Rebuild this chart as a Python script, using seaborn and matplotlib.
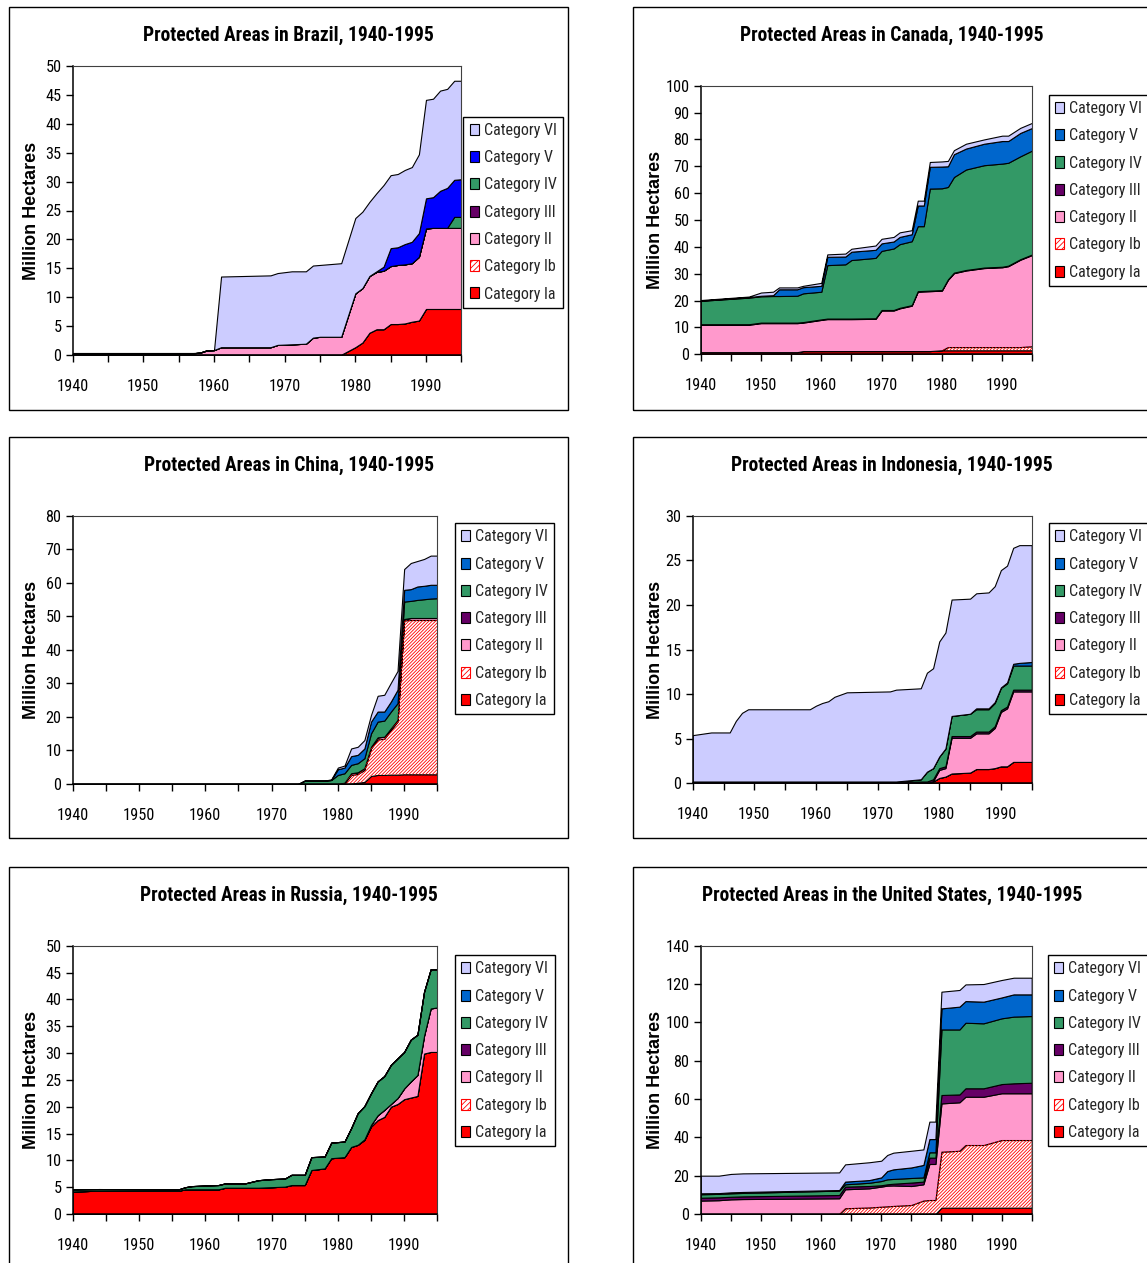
import os
import matplotlib
matplotlib.use("Agg")
import matplotlib.pyplot as plt
import seaborn as sns
from matplotlib import font_manager as fm
from matplotlib.patches import Patch, Rectangle

sns.set_theme(style="white")
plt.rcParams["font.family"] = ["Liberation Sans", "DejaVu Sans"]
plt.rcParams["hatch.linewidth"] = 0.6

# ---------------- data (million hectares, per category) ----------------
CATEGORIES = ["Category Ia", "Category Ib", "Category II", "Category III",
              "Category IV", "Category V", "Category VI"]

BRAZIL_YEARS = [1940, 1957, 1958, 1959, 1960, 1961, 1968, 1969, 1971, 1973, 1974, 1975, 1978, 1980, 1981,
                1982, 1983, 1984, 1985, 1986, 1987, 1988, 1989, 1990, 1991, 1992, 1993, 1994, 1995]
BRAZIL_IA = [0.1, 0.1, 0.1, 0.1, 0.1, 0.1, 0.1, 0.1, 0.1, 0.1, 0.1, 0.1, 0.1, 1.4, 2.2,
             3.9, 4.5, 4.5, 5.4, 5.4, 5.5, 5.8, 6.0, 8.0, 8.0, 8.0, 8.0, 8.0, 8.0]
BRAZIL_IB = [0, 0, 0, 0, 0, 0, 0, 0, 0, 0, 0, 0, 0, 0, 0,
             0, 0, 0, 0, 0, 0, 0, 0, 0, 0, 0, 0, 0, 0]
BRAZIL_II = [0.25, 0.25, 0.35, 0.75, 0.8, 1.3, 1.3, 1.7, 1.8, 1.9, 2.95, 3.1, 3.1, 9.3, 9.4,
             9.8, 9.9, 10.1, 10.0, 10.2, 10.2, 10.1, 11.0, 13.9, 14.0, 14.0, 14.0, 14.0, 14.0]
BRAZIL_III = [0, 0, 0, 0, 0, 0, 0, 0, 0, 0, 0, 0, 0, 0, 0,
              0, 0, 0, 0, 0, 0, 0, 0, 0, 0, 0, 0, 0, 0]
BRAZIL_IV = [0, 0, 0, 0, 0, 0, 0, 0, 0, 0, 0, 0, 0, 0, 0,
             0, 0, 0, 0, 0, 0, 0, 0, 0, 0, 0, 0, 1.9, 1.9]
BRAZIL_V = [0, 0, 0, 0, 0, 0, 0, 0, 0, 0, 0, 0, 0, 0, 0,
            0, 0.1, 0.7, 3.1, 3.05, 3.5, 3.7, 4.1, 5.2, 5.3, 6.4, 6.9, 6.4, 6.5]
BRAZIL_VI = [0.05, 0.05, 0, 0, 0, 12.2, 12.4, 12.4, 12.6, 12.5, 12.45, 12.4, 12.7, 13.0, 13.2,
             12.8, 13.5, 14.1, 12.6, 12.65, 12.8, 12.9, 13.6, 17.0, 17.0, 17.3, 17.1, 17.1, 17.0]

CANADA_YEARS = [1940, 1948, 1950, 1952, 1953, 1956, 1957, 1960, 1961, 1964, 1965, 1969, 1970, 1972,
                1973, 1975, 1976, 1977, 1978, 1980, 1981, 1982, 1984, 1987, 1990, 1991, 1993, 1995]
CANADA_IA = [0.8, 0.8, 0.8, 0.8, 0.8, 0.8, 1.2, 1.2, 1.2, 1.2, 1.2, 1.2, 1.2, 1.2,
             1.2, 1.2, 1.2, 1.2, 1.2, 1.5, 1.5, 1.5, 1.5, 1.5, 1.5, 1.5, 1.5, 1.5]
CANADA_IB = [0, 0, 0, 0, 0, 0, 0, 0, 0, 0, 0, 0, 0, 0,
             0, 0, 0, 0, 0, 0, 1.2, 1.2, 1.2, 1.2, 1.2, 1.2, 1.2, 1.5]
CANADA_II = [10.2, 10.2, 10.8, 10.8, 10.8, 10.8, 10.6, 11.6, 11.9, 11.9, 11.9, 12.0, 15.1, 15.1,
             15.9, 16.9, 22.1, 22.2, 22.3, 22.2, 25.0, 27.5, 28.5, 29.4, 29.7, 30.1, 32.5, 34.0]
CANADA_III = [0.2, 0.2, 0.2, 0.2, 0.2, 0.2, 0.2, 0.2, 0.2, 0.2, 0.2, 0.2, 0.2, 0.2,
              0.2, 0.2, 0.2, 0.2, 0.2, 0.2, 0.2, 0.2, 0.2, 0.2, 0.2, 0.2, 0.2, 0.2]
CANADA_IV = [8.7, 9.9, 9.8, 9.9, 9.9, 10.0, 10.7, 10.3, 19.9, 20.2, 21.8, 22.5, 22.0, 22.9,
             23.7, 23.8, 24.2, 24.1, 38.0, 37.9, 34.4, 35.6, 37.4, 38.1, 38.4, 38.3, 38.3, 38.7]
CANADA_V = [0.1, 0.2, 0.2, 0.3, 2.5, 2.4, 2.3, 2.2, 3.1, 2.9, 3.1, 3.0, 2.8, 2.6,
            2.7, 2.6, 7.7, 7.7, 8.1, 8.1, 7.7, 8.5, 7.8, 8.0, 8.4, 8.1, 8.7, 8.4]
CANADA_VI = [0.2, 0.2, 1.2, 1.3, 0.7, 0.7, 0.5, 1.1, 0.9, 1.1, 1.1, 1.6, 1.7, 1.7,
             1.7, 1.5, 1.8, 1.8, 1.8, 1.9, 2.0, 1.5, 1.8, 1.6, 2.0, 2.0, 1.9, 1.9]

CHINA_YEARS = [1940, 1974, 1975, 1978, 1979, 1980, 1981, 1982, 1983, 1984, 1985,
               1986, 1987, 1988, 1989, 1990, 1991, 1992, 1993, 1994, 1995]
CHINA_IA = [0, 0, 0, 0, 0, 0, 0, 0.1, 0.4, 0.6, 2.4, 2.7, 2.7, 2.8, 2.8, 2.9, 2.9, 2.9, 2.9, 2.9, 2.9]
CHINA_IB = [0, 0, 0, 0, 0, 0, 0.2, 2.6, 2.6, 3.6, 8.2, 10.6, 10.8, 13.3, 15.8, 45.9, 46.0, 46.0, 46.0, 46.0, 46.0]
CHINA_II = [0, 0, 0, 0, 0, 0, 0.2, 0.5, 0.5, 0.5, 0.5, 0.6, 0.6, 0.5, 0.5, 0.4, 0.6, 0.6, 0.6, 0.6, 0.6]
CHINA_III = [0, 0, 0, 0, 0, 0, 0, 0, 0, 0, 0, 0, 0, 0, 0, 0, 0, 0, 0, 0, 0]
CHINA_IV = [0, 0, 1.0, 1.0, 1.2, 2.7, 2.8, 2.5, 2.7, 3.0, 4.0, 4.7, 4.8, 5.0, 5.0, 5.2, 5.1, 5.4, 5.6, 5.8, 5.9]
CHINA_V = [0, 0, 0, 0, 0, 1.7, 1.7, 2.6, 2.5, 2.9, 3.5, 3.0, 2.7, 3.0, 4.0, 3.5, 3.5, 4.0, 4.0, 4.1, 4.0]
CHINA_VI = [0, 0, 0, 0, 0.2, 0.5, 0.6, 2.3, 2.4, 2.5, 2.0, 4.7, 5.0, 5.6, 5.6, 6.2, 7.8, 7.6, 8.0, 8.7, 8.7]

INDONESIA_YEARS = [1940, 1943, 1946, 1947, 1948, 1949, 1959, 1960, 1961, 1962, 1963, 1965, 1972, 1973, 1977,
                   1978, 1979, 1980, 1981, 1982, 1985, 1986, 1988, 1989, 1990, 1991, 1992, 1993, 1995]
INDONESIA_IA = [0, 0, 0, 0, 0, 0, 0, 0, 0, 0, 0, 0, 0, 0, 0,
                0, 0.2, 0.6, 0.75, 1.1, 1.2, 1.6, 1.6, 1.7, 1.9, 1.9, 2.4, 2.4, 2.4]
INDONESIA_IB = [0, 0, 0, 0, 0, 0, 0, 0, 0, 0, 0, 0, 0, 0, 0,
                0, 0, 0, 0, 0, 0, 0, 0, 0, 0, 0, 0, 0, 0]
INDONESIA_II = [0, 0, 0, 0, 0, 0, 0, 0, 0, 0, 0, 0, 0, 0, 0,
                0, 0.05, 0.9, 0.95, 4.0, 3.9, 4.0, 4.0, 4.5, 6.1, 6.5, 7.9, 7.9, 7.9]
INDONESIA_III = [0.2, 0.2, 0.2, 0.2, 0.2, 0.2, 0.2, 0.2, 0.2, 0.2, 0.2, 0.2, 0.2, 0.2, 0.2,
                 0.2, 0.2, 0.2, 0.2, 0.2, 0.2, 0.2, 0.2, 0.2, 0.2, 0.2, 0.2, 0.2, 0.2]
INDONESIA_IV = [0, 0, 0, 0, 0, 0, 0, 0, 0, 0, 0, 0, 0, 0, 0.25,
                1.1, 1.25, 1.3, 2.0, 2.25, 2.5, 2.5, 2.5, 2.6, 2.5, 2.6, 2.7, 2.7, 2.7]
INDONESIA_V = [0, 0, 0, 0, 0, 0, 0, 0, 0, 0, 0, 0, 0, 0, 0,
               0, 0, 0, 0, 0, 0, 0.1, 0.1, 0.1, 0.05, 0.1, 0.2, 0.3, 0.4]
INDONESIA_VI = [5.2, 5.5, 5.5, 6.8, 7.7, 8.1, 8.1, 8.5, 8.8, 9.0, 9.5, 10.0, 10.1, 10.3, 10.2,
                11.1, 11.2, 12.9, 13.0, 13.05, 12.9, 12.9, 13.0, 13.0, 13.15, 13.1, 13.0, 13.2, 13.1]

RUSSIA_YEARS = [1940, 1944, 1956, 1957, 1958, 1962, 1963, 1966, 1968, 1970, 1972, 1973, 1975, 1976, 1978, 1979,
                1981, 1982, 1983, 1984, 1985, 1986, 1987, 1988, 1989, 1990, 1991, 1992, 1993, 1994, 1995]
RUSSIA_IA = [4.2, 4.35, 4.35, 4.6, 4.6, 4.6, 4.9, 4.9, 4.9, 5.0, 5.1, 5.4, 5.4, 8.2, 8.5, 10.4,
             10.6, 12.5, 12.9, 13.8, 16.3, 17.5, 18.1, 20.0, 20.5, 21.4, 21.7, 22.0, 29.9, 30.2, 30.2]
RUSSIA_IB = [0, 0, 0, 0, 0, 0, 0, 0, 0, 0, 0, 0, 0, 0, 0, 0,
             0, 0, 0, 0, 0, 0, 0, 0, 0, 0, 0, 0, 0, 0, 0]
RUSSIA_II = [0, 0, 0, 0, 0, 0, 0, 0, 0, 0, 0, 0, 0, 0, 0, 0,
             0, 0, 0, 0.1, 0.3, 0.9, 1.3, 0.5, 1.1, 2.0, 3.0, 3.9, 3.3, 8.1, 8.3]
RUSSIA_III = [0, 0, 0, 0, 0, 0, 0, 0, 0, 0, 0, 0, 0, 0, 0, 0,
              0, 0, 0, 0, 0, 0, 0, 0, 0, 0, 0, 0, 0, 0, 0]
RUSSIA_IV = [0.4, 0.3, 0.25, 0.4, 0.6, 0.8, 0.8, 0.8, 1.4, 1.5, 1.5, 1.9, 1.9, 2.4, 2.2, 2.9,
             2.9, 3.5, 5.9, 6.2, 5.9, 6.3, 6.3, 7.3, 7.4, 6.8, 7.8, 7.5, 8.2, 7.3, 7.1]
RUSSIA_V = [0, 0, 0, 0, 0, 0, 0, 0, 0, 0, 0, 0, 0, 0, 0, 0,
            0, 0, 0, 0, 0, 0, 0, 0, 0, 0, 0, 0, 0, 0, 0]
RUSSIA_VI = [0, 0, 0, 0, 0, 0, 0, 0, 0, 0, 0, 0, 0, 0, 0, 0,
             0, 0, 0, 0, 0, 0, 0, 0, 0, 0, 0, 0, 0, 0, 0]

US_YEARS = [1940, 1943, 1945, 1947, 1963, 1964, 1968, 1970, 1971, 1972, 1975,
            1977, 1978, 1979, 1980, 1983, 1984, 1987, 1990, 1992, 1995]
US_IA = [0, 0, 0, 0, 0, 0, 0, 0, 0, 0, 0, 0, 0, 0, 3.3, 3.3, 3.3, 3.3, 3.3, 3.3, 3.3]
US_IB = [0, 0, 0, 0, 0, 3.0, 3.4, 3.8, 4.0, 4.2, 4.7, 7.0, 7.3, 7.3, 29.2, 29.7, 32.7, 32.7, 35.3, 35.3, 35.3]
US_II = [7.0, 7.2, 7.65, 7.8, 8.2, 9.9, 10.0, 10.5, 10.8, 10.7, 9.9, 8.5, 18.8, 18.8, 25.2, 25.3, 25.2, 25.2, 24.4, 24.4, 24.4]
US_III = [1.5, 1.5, 1.35, 1.4, 1.7, 1.4, 1.2, 0.7, 0.7, 0.9, 1.8, 1.4, 3.3, 3.3, 4.4, 4.1, 4.4, 4.4, 4.8, 5.2, 5.5]
US_IV = [1.8, 1.8, 1.8, 1.8, 2.3, 1.2, 1.7, 2.2, 2.6, 2.5, 2.4, 2.2, 2.8, 2.8, 34.2, 33.9, 34.2, 33.9, 34.3, 34.8, 34.8]
US_V = [0.5, 0.4, 0.5, 0.5, 0.3, 1.4, 1.4, 1.9, 4.3, 5.0, 5.5, 6.5, 6.9, 6.9, 11.0, 11.9, 11.3, 11.3, 10.9, 11.6, 11.3]
US_VI = [9.2, 9.1, 9.6, 9.7, 9.2, 9.0, 9.3, 8.7, 8.4, 8.7, 8.7, 8.1, 9.1, 9.1, 8.7, 8.7, 8.7, 9.2, 9.1, 8.7, 8.7]

TITLES = ["Protected Areas in Brazil, 1940-1995", "Protected Areas in Canada, 1940-1995",
          "Protected Areas in China, 1940-1995", "Protected Areas in Indonesia, 1940-1995",
          "Protected Areas in Russia, 1940-1995", "Protected Areas in the United States, 1940-1995"]
Y_LABEL = "Million Hectares"
Y_LIMITS = [50, 100, 80, 30, 50, 140]
Y_STEPS = [5, 10, 10, 5, 5, 20]
X_TICKS = [1940, 1945, 1950, 1955, 1960, 1965, 1970, 1975, 1980, 1985, 1990, 1995]
X_LABELS = ["1940", "", "1950", "", "1960", "", "1970", "", "1980", "", "1990", ""]

# ---------------- styling ----------------
COL_VI = "#CCCCFF"
COL_V = "#0066CC"
COL_V_BRAZIL = "#0000FF"
COL_IV = "#339966"
COL_III = "#660066"
COL_II = "#FF99CC"
COL_IB = "#FFFFFF"
COL_IA = "#FF0000"
HATCH = "//////////"


def _is_bold(e):
    w = e.weight
    if isinstance(w, str):
        return w.lower() in ("bold", "heavy", "black", "extra bold", "ultrabold",
                             "demibold", "semibold", "demi")
    return w >= 600


def pick_narrow(bold):
    entries = [e for e in fm.fontManager.ttflist
               if e.style == "normal" and _is_bold(e) == bold]
    for name in ["Liberation Sans Narrow", "Arial Narrow", "Roboto Condensed",
                 "Open Sans Condensed", "Noto Sans Condensed", "Noto Sans SemiCondensed"]:
        for e in entries:
            if e.name == name:
                return e.fname
    for key in ["Narrow", "-Condensed", "SemiCondensed", "Condensed"]:
        for e in entries:
            base = os.path.basename(e.fname)
            if (key in base and "Extra" not in base and "Ultra" not in base
                    and "Italic" not in base and "Oblique" not in base and "Mono" not in base
                    and "Serif" not in base):
                return e.fname
    return None


NARROW_REG = pick_narrow(False)
NARROW_BOLD = pick_narrow(True)


def fprop(fname, bold, size, family=("Liberation Sans", "DejaVu Sans")):
    if fname:
        return fm.FontProperties(fname=fname, size=size)
    return fm.FontProperties(family=list(family), weight="bold" if bold else "normal", size=size)


W, H = 1147, 1263
fig = plt.figure(figsize=(W / 100, H / 100), dpi=100)
fig.patch.set_facecolor("white")
_renderer = fig.canvas.get_renderer()


def fit_size(text, fname, bold, target_px, family=("Liberation Sans", "DejaVu Sans")):
    t = fig.text(0, 0, text, fontproperties=fprop(fname, bold, 20, family))
    w = t.get_window_extent(renderer=_renderer).width
    t.remove()
    return 20.0 * target_px / w


TITLE_SIZE = fit_size("Protected Areas in Brazil, 1940-1995", NARROW_BOLD, True, 291)
LEG_SIZE = fit_size("Category VI", NARROW_REG, False, 73)
TICK_SIZE = fit_size("1940", NARROW_REG, False, 32)
YLAB_SIZE = fit_size(Y_LABEL, None, True, 138)

fp_title = fprop(NARROW_BOLD, True, TITLE_SIZE)
fp_leg = fprop(NARROW_REG, False, LEG_SIZE)
fp_tick = fprop(NARROW_REG, False, TICK_SIZE)
fp_ylab = fprop(None, True, YLAB_SIZE)

LEG_PX = LEG_SIZE * 100 / 72.0


def frac_rect(l, t, r, b):
    return [l / W, 1 - b / H, (r - l) / W, (b - t) / H]


panel_data = [
    (BRAZIL_YEARS, [BRAZIL_IA, BRAZIL_IB, BRAZIL_II, BRAZIL_III, BRAZIL_IV, BRAZIL_V, BRAZIL_VI]),
    (CANADA_YEARS, [CANADA_IA, CANADA_IB, CANADA_II, CANADA_III, CANADA_IV, CANADA_V, CANADA_VI]),
    (CHINA_YEARS, [CHINA_IA, CHINA_IB, CHINA_II, CHINA_III, CHINA_IV, CHINA_V, CHINA_VI]),
    (INDONESIA_YEARS, [INDONESIA_IA, INDONESIA_IB, INDONESIA_II, INDONESIA_III, INDONESIA_IV,
                       INDONESIA_V, INDONESIA_VI]),
    (RUSSIA_YEARS, [RUSSIA_IA, RUSSIA_IB, RUSSIA_II, RUSSIA_III, RUSSIA_IV, RUSSIA_V, RUSSIA_VI]),
    (US_YEARS, [US_IA, US_IB, US_II, US_III, US_IV, US_V, US_VI]),
]

# layout in pixels: panel box, axes box, legend top-left, title centre, ylabel x
LAYOUT = [
    dict(box=(9, 7, 568, 410), ax=(72.7, 65.7, 461.3, 355.3), leg=(463.3, 116.5), title=(288.5, 35), ylab=32),
    dict(box=(633, 7, 1152, 410), ax=(700.7, 85.7, 1032.3, 354.3), leg=(1048.5, 94.7), title=(892, 35), ylab=655),
    dict(box=(9, 437, 568, 838), ax=(72.7, 515.7, 437.3, 784.0), leg=(454.5, 523), title=(288.5, 465), ylab=32),
    dict(box=(633, 437, 1152, 838), ax=(692.7, 515.7, 1031.7, 783.3), leg=(1048.5, 523), title=(892, 465), ylab=655),
    dict(box=(9, 867, 568, 1266), ax=(72.7, 945.7, 437.3, 1214.0), leg=(455, 955), title=(288.5, 895), ylab=32),
    dict(box=(633, 867, 1152, 1266), ax=(700.7, 945.7, 1031.7, 1214.0), leg=(1048, 955), title=(892, 895), ylab=655),
]

for i, ((years, series), lay) in enumerate(zip(panel_data, LAYOUT)):
    vcol = COL_V_BRAZIL if i == 0 else COL_V
    colors = [COL_IA, COL_IB, COL_II, COL_III, COL_IV, vcol, COL_VI]

    fig.add_artist(Rectangle((lay["box"][0] / W, 1 - lay["box"][3] / H),
                             (lay["box"][2] - lay["box"][0]) / W,
                             (lay["box"][3] - lay["box"][1]) / H,
                             transform=fig.transFigure, fill=False,
                             edgecolor="black", linewidth=1.0, zorder=0))

    ax = fig.add_axes(frac_rect(*lay["ax"]))
    ax.set_facecolor("white")
    ax.stackplot(years, *series, colors=colors, edgecolor="black",
                 linewidth=0.8, labels=CATEGORIES)
    # red hatching of Category Ib, laid over its (white) band
    ib_low = series[0]
    ib_high = [a + b for a, b in zip(series[0], series[1])]
    ax.fill_between(years, ib_low, ib_high, facecolor="none", edgecolor=COL_IA,
                    hatch=HATCH, linewidth=0)

    ax.set_xlim(1940, 1995)
    ax.set_ylim(0, Y_LIMITS[i])
    ax.set_xticks(X_TICKS)
    ax.set_xticklabels(X_LABELS)
    ax.set_yticks(list(range(0, Y_LIMITS[i] + 1, Y_STEPS[i])))
    ax.tick_params(axis="both", which="major", direction="out", length=5, width=1,
                   colors="black", bottom=True, left=True)
    ax.tick_params(axis="x", pad=12)
    ax.tick_params(axis="y", pad=3)
    for lab in ax.get_xticklabels() + ax.get_yticklabels():
        lab.set_fontproperties(fp_tick)
    for side in ["left", "bottom"]:
        ax.spines[side].set_color("black")
        ax.spines[side].set_linewidth(1.1)
    for side in ["top", "right"]:
        ax.spines[side].set_color("#404040")
        ax.spines[side].set_linewidth(0.8)
    ax.grid(False)

    # legend (top category first)
    handles = []
    for c, col in zip(CATEGORIES, colors):
        if c == "Category Ib":
            handles.append(Patch(facecolor="white", edgecolor=COL_IA, hatch="//////", linewidth=0.8))
        else:
            handles.append(Patch(facecolor=col, edgecolor="black", linewidth=0.8))
    handles = handles[::-1]
    labels = CATEGORIES[::-1]
    leg = ax.legend(handles, labels, loc="upper left",
                    bbox_to_anchor=(lay["leg"][0] / W, 1 - lay["leg"][1] / H),
                    bbox_transform=fig.transFigure, borderaxespad=0, frameon=True,
                    fancybox=False, framealpha=1, edgecolor="black", prop=fp_leg,
                    handlelength=9.0 / LEG_PX, handleheight=11.0 / LEG_PX,
                    handletextpad=5.0 / LEG_PX,
                    labelspacing=max(0.1, (28.3 - LEG_PX) / LEG_PX),
                    borderpad=0.4)
    leg.get_frame().set_linewidth(1.0)

    fig.text(lay["title"][0] / W, 1 - lay["title"][1] / H, TITLES[i], ha="center", va="center",
             fontproperties=fp_title, color="black")
    ay = (lay["ax"][1] + lay["ax"][3]) / 2
    fig.text(lay["ylab"] / W, 1 - ay / H, Y_LABEL, rotation=90, ha="center", va="center",
             fontproperties=fp_ylab, color="black")

fig.savefig("out.png", dpi=100, facecolor="white")
